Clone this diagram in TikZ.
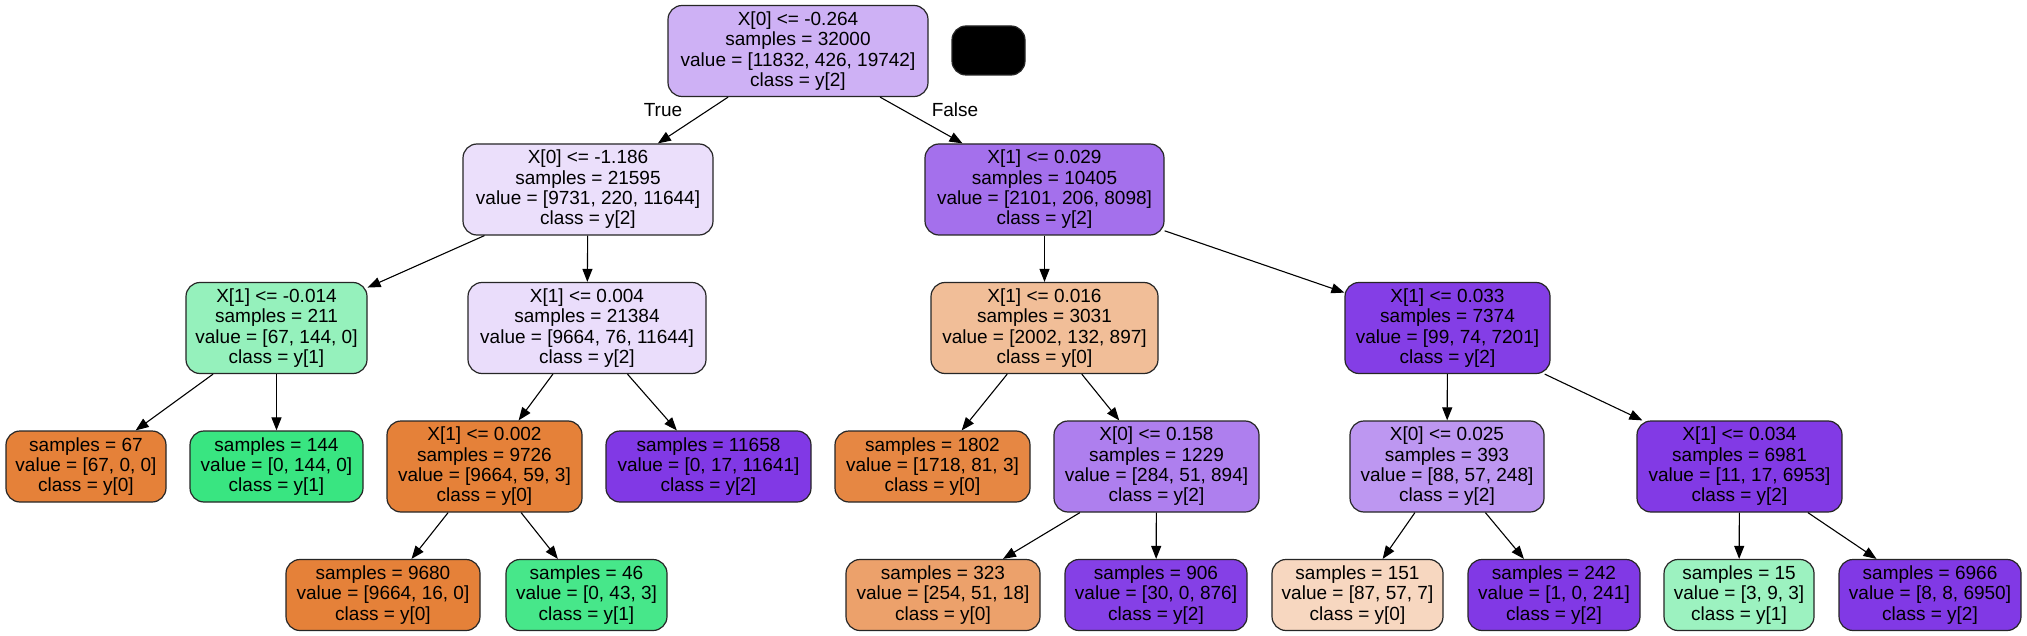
\documentclass[tikz,border=0pt]{standalone}
\usepackage{fontspec}
\setmainfont{Liberation Sans}
\usetikzlibrary{arrows.meta}
\definecolor{cRoot}{RGB}{206,177,245}
\definecolor{cA}{RGB}{235,223,251}
\definecolor{cB}{RGB}{164,112,236}
\definecolor{cC}{RGB}{149,241,188}
\definecolor{cD}{RGB}{234,221,251}
\definecolor{cE}{RGB}{241,190,152}
\definecolor{cF}{RGB}{132,62,230}
\definecolor{cOr}{RGB}{229,129,57}
\definecolor{cGr}{RGB}{57,229,129}
\definecolor{cPu}{RGB}{129,57,229}
\definecolor{cK}{RGB}{230,135,67}
\definecolor{cL}{RGB}{174,127,238}
\definecolor{cM}{RGB}{189,151,241}
\definecolor{cN}{RGB}{130,58,229}
\definecolor{cP}{RGB}{71,231,138}
\definecolor{cQ}{RGB}{236,161,107}
\definecolor{cR}{RGB}{133,64,230}
\definecolor{cS}{RGB}{247,215,192}
\definecolor{cU}{RGB}{156,242,192}
\begin{document}
\begin{tikzpicture}[x=0.5pt,y=-0.5pt,
  font=\fontsize{9.5}{10.15}\selectfont,
  box/.style={draw=black!85,line width=0.6pt,rounded corners=7pt,align=center,inner sep=0pt},
  boxfour/.style={box,minimum height=45.5pt},
  boxthree/.style={box,minimum height=35.5pt},
  edge/.style={draw,line width=0.55pt,-{Triangle[length=6.5pt,width=5pt]}},
  lbl/.style={inner sep=0pt}]
\useasboundingbox[fill=white] (0,0) rectangle (2027,636);
% level 0
\node[boxfour,fill=cRoot,minimum width=130pt] (root) at (798,51) {X[0] <= -0.264\\samples = 32000\\value = [11832, 426, 19742]\\class = y[2]};
\node[box,fill=black,minimum width=36.5pt,minimum height=24.5pt] (blk) at (988.5,50.5) {};
% level 1
\node[boxfour,fill=cA,minimum width=125pt] (A) at (588,189.5) {X[0] <= -1.186\\samples = 21595\\value = [9731, 220, 11644]\\class = y[2]};
\node[boxfour,fill=cB,minimum width=119.5pt] (B) at (1044.5,189.5) {X[1] <= 0.029\\samples = 10405\\value = [2101, 206, 8098]\\class = y[2]};
% level 2
\node[boxfour,fill=cC,minimum width=90.5pt] (C) at (276.5,328) {X[1] <= -0.014\\samples = 211\\value = [67, 144, 0]\\class = y[1]};
\node[boxfour,fill=cD,minimum width=119pt] (D) at (587,328) {X[1] <= 0.004\\samples = 21384\\value = [9664, 76, 11644]\\class = y[2]};
\node[boxfour,fill=cE,minimum width=113.5pt] (E) at (1044.5,328) {X[1] <= 0.016\\samples = 3031\\value = [2002, 132, 897]\\class = y[0]};
\node[boxfour,fill=cF,minimum width=102.5pt] (F) at (1447.5,328) {X[1] <= 0.033\\samples = 7374\\value = [99, 74, 7201]\\class = y[2]};
% level 3
\node[boxthree,fill=cOr,minimum width=80pt] (G) at (86,466.5) {samples = 67\\value = [67, 0, 0]\\class = y[0]};
\node[boxthree,fill=cGr,minimum width=86.5pt] (H) at (276.5,466.5) {samples = 144\\value = [0, 144, 0]\\class = y[1]};
\node[boxfour,fill=cOr,minimum width=97.5pt] (I) at (484.5,466.5) {X[1] <= 0.002\\samples = 9726\\value = [9664, 59, 3]\\class = y[0]};
\node[boxthree,fill=cPu,minimum width=102.5pt] (J) at (708.5,466.5) {samples = 11658\\value = [0, 17, 11641]\\class = y[2]};
\node[boxthree,fill=cK,minimum width=97.5pt] (K) at (932.5,466.5) {samples = 1802\\value = [1718, 81, 3]\\class = y[0]};
\node[boxfour,fill=cL,minimum width=102.5pt] (L) at (1156.5,466.5) {X[0] <= 0.158\\samples = 1229\\value = [284, 51, 894]\\class = y[2]};
\node[boxfour,fill=cM,minimum width=97pt] (M) at (1447,466.5) {X[0] <= 0.025\\samples = 393\\value = [88, 57, 248]\\class = y[2]};
\node[boxfour,fill=cN,minimum width=102.5pt] (N) at (1739.5,466.5) {X[1] <= 0.034\\samples = 6981\\value = [11, 17, 6953]\\class = y[2]};
% level 4
\node[boxthree,fill=cOr,minimum width=97pt] (O) at (383,595) {samples = 9680\\value = [9664, 16, 0]\\class = y[0]};
\node[boxthree,fill=cP,minimum width=80.5pt] (P) at (586.5,595) {samples = 46\\value = [0, 43, 3]\\class = y[1]};
\node[boxthree,fill=cQ,minimum width=97pt] (Q) at (943,595) {samples = 323\\value = [254, 51, 18]\\class = y[0]};
\node[boxthree,fill=cR,minimum width=91pt] (R) at (1156,595) {samples = 906\\value = [30, 0, 876]\\class = y[2]};
\node[boxthree,fill=cS,minimum width=85.5pt] (S) at (1357.5,595) {samples = 151\\value = [87, 57, 7]\\class = y[0]};
\node[boxthree,fill=cPu,minimum width=86pt] (T) at (1554,595) {samples = 242\\value = [1, 0, 241]\\class = y[2]};
\node[boxthree,fill=cU,minimum width=75pt] (U) at (1739,595) {samples = 15\\value = [3, 9, 3]\\class = y[1]};
\node[boxthree,fill=cPu,minimum width=91pt] (V) at (1930,595) {samples = 6966\\value = [8, 8, 6950]\\class = y[2]};
% labels
\node[lbl] (tTrue) at (663,110) {True};
\node[lbl] (tFalse) at (955,110) {False};
% edges
\path[edge] (root) -- (A);
\path[edge] (root) -- (B);
\path[edge] (A) -- (C);
\path[edge] (A) -- (D);
\path[edge] (C) -- (G);
\path[edge] (C) -- (H);
\path[edge] (D) -- (I);
\path[edge] (D) -- (J);
\path[edge] (I) -- (O);
\path[edge] (I) -- (P);
\path[edge] (B) -- (E);
\path[edge] (B) -- (F);
\path[edge] (E) -- (K);
\path[edge] (E) -- (L);
\path[edge] (L) -- (Q);
\path[edge] (L) -- (R);
\path[edge] (F) -- (M);
\path[edge] (F) -- (N);
\path[edge] (M) -- (S);
\path[edge] (M) -- (T);
\path[edge] (N) -- (U);
\path[edge] (N) -- (V);
\end{tikzpicture}
\end{document}
